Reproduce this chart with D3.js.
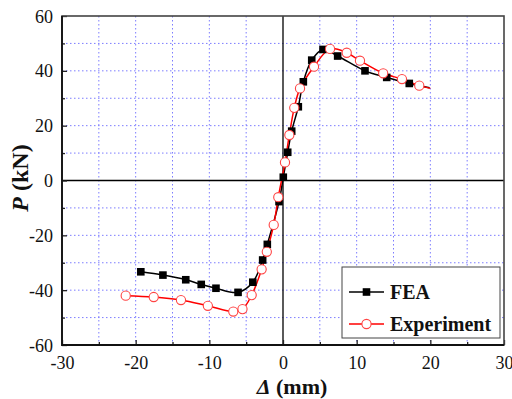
<!DOCTYPE html>
<html>
<head>
<meta charset="utf-8">
<script src="https://cdn.jsdelivr.net/npm/d3@7"></script>
<style>
  body { margin: 0; background: #fff; }
  svg { display: block; }
</style>
</head>
<body>
<div id="chart"></div>
<script>
// FEA curve (displacement mm, load kN)
const feaX = [-19.3, -16.3, -13.2, -11.1, -9.1, -6.1, -4.1, -2.76, -2.13, -0.54, 0.04, 0.64, 1.18, 2.08, 2.76, 3.9, 5.43, 7.42, 11.13, 14.08, 17.14, 19.9];
const feaY = [-33.3, -34.5, -36.2, -37.9, -39.3, -40.8, -37.1, -29.0, -23.3, -7.7, 1.2, 10.3, 18.0, 26.9, 36.0, 43.9, 47.8, 45.4, 40.0, 37.6, 35.4, 33.8];
// Experiment curve
const expX = [-21.35, -17.55, -13.85, -10.2, -6.75, -5.5, -4.25, -2.9, -2.2, -1.26, -0.64, 0.27, 0.86, 1.53, 2.31, 4.21, 6.38, 8.65, 10.45, 13.6, 16.15, 18.5, 20.0];
const expY = [-42.0, -42.5, -43.6, -45.7, -47.8, -46.9, -41.8, -32.4, -26.0, -16.2, -6.1, 6.6, 16.6, 26.5, 33.6, 41.5, 48.0, 46.6, 43.7, 39.1, 37.0, 34.6, 33.6];
// last point of each curve is the line end only (no marker)
const xTicks = [-30, -20, -10, 0, 10, 20, 30];
const yTicks = [-60, -40, -20, 0, 20, 40, 60];
const seriesNames = ["FEA", "Experiment"];

const W = 512, H = 399;
const margin = { top: 16, right: 8, bottom: 54, left: 62 };
const width = W - margin.left - margin.right,
  height = H - margin.top - margin.bottom;

const svg = d3.select("#chart").append("svg")
  .attr("width", W).attr("height", H)
  .style("font-family", "'Liberation Serif', 'Times New Roman', serif");

const g = svg.append("g")
  .attr("transform", `translate(${margin.left},${margin.top})`);

const x = d3.scaleLinear().domain([-30, 30]).range([0, width]);
const y = d3.scaleLinear().domain([-60, 60]).range([height, 0]);

// grid
const gridX = d3.range(-25, 30, 5).filter(v => v !== 0);
const gridY = d3.range(-50, 60, 10).filter(v => v !== 0);
g.append("g").selectAll("line").data(gridX).join("line")
  .attr("x1", d => x(d)).attr("x2", d => x(d))
  .attr("y1", 0).attr("y2", height)
  .attr("stroke", "#7c7cff").attr("stroke-width", 1)
  .attr("stroke-dasharray", "1.5,2.5");
g.append("g").selectAll("line").data(gridY).join("line")
  .attr("y1", d => y(d)).attr("y2", d => y(d))
  .attr("x1", 0).attr("x2", width)
  .attr("stroke", "#7c7cff").attr("stroke-width", 1)
  .attr("stroke-dasharray", "1.5,2.5");

// zero lines
g.append("line").attr("x1", x(0)).attr("x2", x(0)).attr("y1", 0).attr("y2", height)
  .attr("stroke", "#000").attr("stroke-width", 1.3);
g.append("line").attr("y1", y(0)).attr("y2", y(0)).attr("x1", 0).attr("x2", width)
  .attr("stroke", "#000").attr("stroke-width", 1.3);

// axes (inward ticks), plain hyphen for negatives
const fmt = d => String(d);
const xAxis = g.append("g").attr("transform", `translate(0,${height})`)
  .call(d3.axisBottom(x).tickValues(xTicks).tickSize(-5).tickPadding(11).tickFormat(fmt));
const xMinor = g.append("g").attr("transform", `translate(0,${height})`)
  .call(d3.axisBottom(x).tickValues(d3.range(-25, 30, 10)).tickSize(-3).tickFormat(""));
const yAxis = g.append("g")
  .call(d3.axisLeft(y).tickValues(yTicks).tickSize(-5).tickPadding(9).tickFormat(fmt));
const yMinor = g.append("g")
  .call(d3.axisLeft(y).tickValues(d3.range(-50, 60, 20)).tickSize(-3).tickFormat(""));

[xAxis, yAxis, xMinor, yMinor].forEach(a => {
  a.select(".domain").remove();
  a.selectAll(".tick line").attr("stroke", "#222").attr("stroke-width", 1.3);
  a.selectAll("text").attr("font-size", 18).attr("fill", "#111")
    .style("font-family", "'Liberation Serif', serif");
});
yAxis.selectAll("text").attr("dy", "0.34em");

// frame
g.append("rect").attr("width", width).attr("height", height)
  .attr("fill", "none").attr("stroke", "#444").attr("stroke-width", 1.6);
g.append("path")
  .attr("d", `M0,0 V${height} H${width}`)
  .attr("fill", "none").attr("stroke", "#111").attr("stroke-width", 1.8);

// curves
const feaData = feaX.map((v, i) => ({ x: v, y: feaY[i] }));
const expData = expX.map((v, i) => ({ x: v, y: expY[i] }));
const line = d3.line().x(d => x(d.x)).y(d => y(d.y)).curve(d3.curveCatmullRom);

g.append("path").datum(feaData).attr("d", line)
  .attr("fill", "none").attr("stroke", "#000").attr("stroke-width", 1.5);
g.append("path").datum(expData).attr("d", line)
  .attr("fill", "none").attr("stroke", "#f00").attr("stroke-width", 1.5);

g.append("g").selectAll("rect").data(feaData.slice(0, -1)).join("rect")
  .attr("x", d => x(d.x) - 3.8).attr("y", d => y(d.y) - 3.8)
  .attr("width", 7.6).attr("height", 7.6).attr("fill", "#000");
g.append("g").selectAll("circle").data(expData.slice(0, -1)).join("circle")
  .attr("cx", d => x(d.x)).attr("cy", d => y(d.y)).attr("r", 4.6)
  .attr("fill", "#fff").attr("stroke", "#f44").attr("stroke-width", 1.1);

// legend
const lg = svg.append("g").attr("transform", "translate(342,267)");
lg.append("rect").attr("width", 158).attr("height", 71)
  .attr("fill", "#fff").attr("stroke", "#444").attr("stroke-width", 1);
const legRows = [
  { name: seriesNames[0], color: "#000", y: 25 },
  { name: seriesNames[1], color: "#f00", y: 57 }
];
legRows.forEach((r, i) => {
  lg.append("line").attr("x1", 7).attr("x2", 42).attr("y1", r.y).attr("y2", r.y)
    .attr("stroke", r.color).attr("stroke-width", 1.5);
  if (i === 0) {
    lg.append("rect").attr("x", 24.5 - 3.8).attr("y", r.y - 3.8)
      .attr("width", 7.6).attr("height", 7.6).attr("fill", "#000");
  } else {
    lg.append("circle").attr("cx", 24.5).attr("cy", r.y).attr("r", 4.6)
      .attr("fill", "#fff").attr("stroke", "#f44").attr("stroke-width", 1.1);
  }
  lg.append("text").attr("x", 48).attr("y", r.y + 7)
    .attr("font-size", 20).attr("font-weight", "bold").attr("fill", "#111")
    .text(r.name);
});

// axis titles
const xt = svg.append("text").attr("x", 292).attr("y", 394)
  .attr("text-anchor", "middle").attr("font-size", 22).attr("font-weight", "bold").attr("fill", "#111");
xt.append("tspan").attr("font-style", "italic").text("Δ");
xt.append("tspan").text(" (mm)");

const yt = svg.append("text")
  .attr("transform", "translate(28,178) rotate(-90)")
  .attr("text-anchor", "middle").attr("font-size", 24).attr("font-weight", "bold").attr("fill", "#111");
yt.append("tspan").attr("font-style", "italic").text("P");
yt.append("tspan").text(" (kN)");
</script>
</body>
</html>
